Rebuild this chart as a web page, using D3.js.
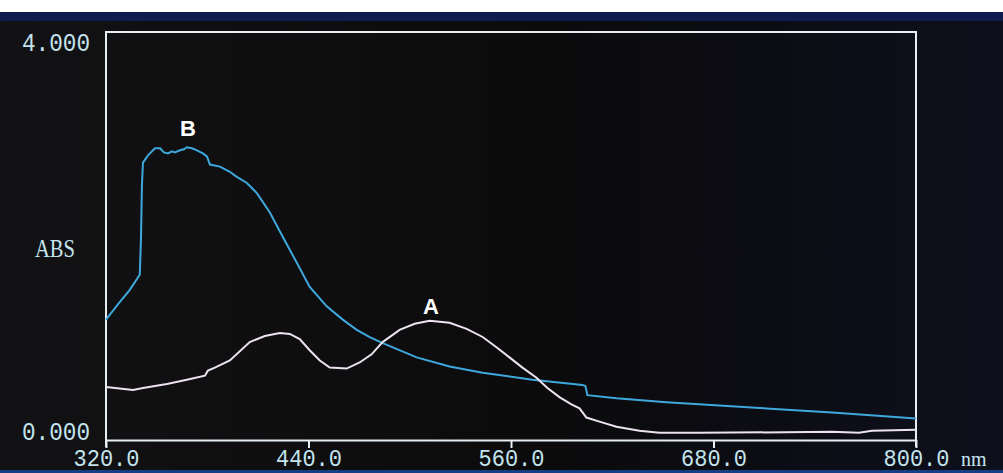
<!DOCTYPE html>
<html lang="en">
<head>
    <meta charset="UTF-8">
    <title>ABS spectrum</title>
    <style>
        body { margin: 0; background: #fff; }
        svg { display: block; }
    </style>
</head>
<body>
    <script src="https://d3js.org/d3.v7.min.js"></script>
    <script>
        // data (wavelength nm, absorbance)
        var waveB = [320, 328, 334, 340, 340.7, 341.3, 341.9, 344.9, 349, 352, 354.3, 356.7, 359.1, 360.8, 363.8, 366.2, 367.9, 370.9, 373.9, 377.4, 379.8, 381.6, 387.5, 393.4, 397.5, 403.5, 409.4, 417.1, 424.8, 433, 440.7, 450.8, 460.3, 468.6, 476, 484, 504.1, 523.6, 543.2, 572.7, 602.3, 604.1, 605.3, 622.5, 652.1, 711.3, 750.3, 800];
        var absB = [1.18, 1.35, 1.47, 1.62, 1.96, 2.50, 2.72, 2.79, 2.86, 2.86, 2.82, 2.81, 2.83, 2.82, 2.84, 2.85, 2.87, 2.86, 2.84, 2.81, 2.78, 2.70, 2.68, 2.63, 2.58, 2.52, 2.42, 2.23, 1.99, 1.74, 1.50, 1.31, 1.18, 1.08, 1.01, 0.95, 0.81, 0.72, 0.66, 0.59, 0.54, 0.53, 0.44, 0.41, 0.37, 0.31, 0.27, 0.21];

        var waveA = [320, 336, 341.9, 356.1, 367.9, 378.6, 380.4, 384.5, 393.4, 405.2, 414.1, 423, 428.9, 434.8, 440.7, 446.7, 452.6, 462.6, 470.3, 477.4, 483.9, 494, 502.9, 511.8, 523.6, 533.7, 543.2, 551.4, 559.1, 566.8, 575.1, 581.6, 588.7, 595.8, 600.6, 604.7, 612.4, 622.5, 636.1, 647.9, 671.6, 750.3, 766.2, 773.9, 800];
        var absA = [0.52, 0.49, 0.51, 0.55, 0.59, 0.63, 0.68, 0.71, 0.78, 0.96, 1.02, 1.05, 1.04, 0.99, 0.88, 0.78, 0.71, 0.70, 0.76, 0.84, 0.96, 1.08, 1.14, 1.17, 1.15, 1.09, 1.01, 0.91, 0.81, 0.71, 0.61, 0.51, 0.42, 0.35, 0.31, 0.22, 0.18, 0.13, 0.09, 0.07, 0.07, 0.08, 0.07, 0.09, 0.10];

        var xTicks = [320, 440, 560, 680, 800];
        var yTicks = [0, 4];

        var width = 1003;
        var height = 473;

        var svg = d3.select('body').append('svg').attr('width', width).attr('height', height);

        // photo background: white edge, navy band, dark screen, blue strip at bottom
        svg.append('rect').attr('width', width).attr('height', height).attr('fill', '#fff');
        var grad = svg.append('defs').append('linearGradient').attr('id', 'scr');
        grad.append('stop').attr('offset', '0%').attr('stop-color', '#121214');
        grad.append('stop').attr('offset', '55%').attr('stop-color', '#0b0b0c');
        grad.append('stop').attr('offset', '100%').attr('stop-color', '#0d0f1c');
        svg.append('rect').attr('y', 12).attr('width', width).attr('height', height - 12).attr('fill', 'url(#scr)');
        svg.append('rect').attr('y', 12).attr('width', width).attr('height', 9).attr('fill', '#0f1c4e');
        svg.append('rect').attr('x', 0).attr('y', 470).attr('width', width).attr('height', 3).attr('fill', '#143f85');

        var x = d3.scaleLinear().domain([320, 800]).range([106, 916]);
        var y = d3.scaleLinear().domain([0, 4]).range([440, 32]);

        var fg = '#e6eef4';
        var txt = '#c4e4ee';

        // frame
        svg.append('path')
            .attr('d', 'M' + x(320) + ',' + (y(0) + 7) + 'V' + y(4) + 'H' + x(800) + 'V' + (y(0) + 7))
            .attr('fill', 'none').attr('stroke', fg).attr('stroke-width', 2);

        // x axis
        var xAxis = d3.axisBottom(x).tickValues(xTicks).tickFormat(d3.format('.1f')).tickSize(8).tickSizeOuter(0);
        var gx = svg.append('g').attr('transform', 'translate(0,' + y(0) + ')').call(xAxis);
        gx.select('.domain').attr('stroke', fg).attr('stroke-width', 2);
        gx.selectAll('.tick line').attr('stroke', fg).attr('stroke-width', 2);
        gx.selectAll('.tick text')
            .attr('y', 26).attr('dy', null)
            .attr('fill', txt)
            .style('font-family', 'Liberation Mono')
            .style('font-size', '24px')
            .attr('textLength', 66).attr('lengthAdjust', 'spacingAndGlyphs');

        svg.append('text').attr('x', 961).attr('y', 466).text('nm')
            .attr('fill', txt).style('font-family', 'Liberation Serif').style('font-size', '20px');

        // y axis labels
        var yAxis = d3.axisLeft(y).tickValues(yTicks).tickFormat(d3.format('.3f')).tickSize(0).tickPadding(16);
        var gy = svg.append('g').attr('transform', 'translate(' + x(320) + ',0)').call(yAxis);
        gy.select('.domain').remove();
        gy.selectAll('.tick text')
            .attr('dy', function (d) { return d === 4 ? 18 : -1; })
            .attr('fill', txt)
            .style('font-family', 'Liberation Mono')
            .style('font-size', '26px')
            .attr('textLength', 68).attr('lengthAdjust', 'spacingAndGlyphs');

        svg.append('text').attr('x', 35).attr('y', 257).text('ABS')
            .attr('fill', txt).style('font-family', 'Liberation Serif').style('font-size', '25px')
            .attr('textLength', 40).attr('lengthAdjust', 'spacingAndGlyphs');

        // curves
        var line = d3.line().x(function (d) { return x(d[0]); }).y(function (d) { return y(d[1]); });

        svg.append('path').datum(d3.zip(waveB, absB))
            .attr('d', line).attr('fill', 'none').attr('stroke', '#3ea8dd').attr('stroke-width', 2);
        svg.append('path').datum(d3.zip(waveA, absA))
            .attr('d', line).attr('fill', 'none').attr('stroke', '#ece2f0').attr('stroke-width', 2);

        // curve labels
        svg.append('text').attr('x', 188).attr('y', 136).attr('text-anchor', 'middle').text('B')
            .attr('fill', '#fff').style('font-family', 'Liberation Sans').style('font-weight', 'bold').style('font-size', '22px');
        svg.append('text').attr('x', 431).attr('y', 314).attr('text-anchor', 'middle').text('A')
            .attr('fill', '#fff').style('font-family', 'Liberation Sans').style('font-weight', 'bold').style('font-size', '22px');
    </script>
</body>
</html>
